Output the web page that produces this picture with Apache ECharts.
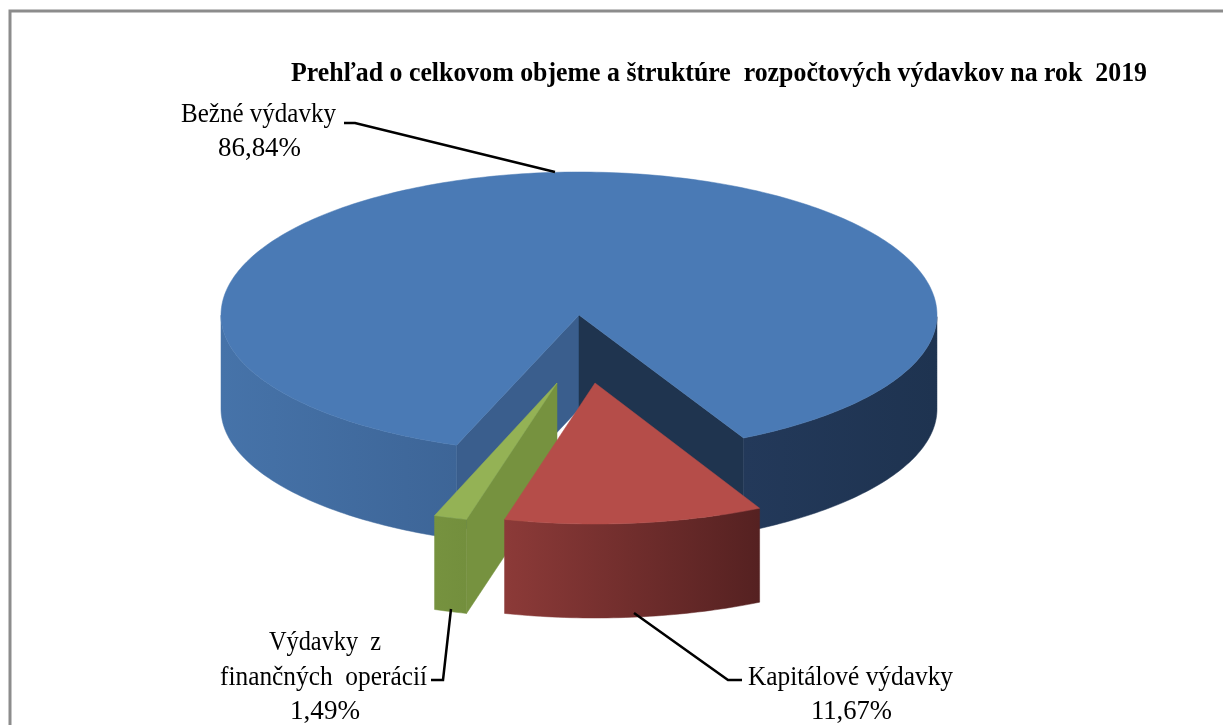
<!DOCTYPE html>
<html><head><meta charset="utf-8">
<style>html,body{margin:0;padding:0;background:#fff}#c{width:1223px;height:725px}</style>
<script src="https://cdn.jsdelivr.net/npm/echarts@6/dist/echarts.min.js"></script>
</head><body><div id="c"></div>
<script>
// ---- data ----
const categories = ['Bežné výdavky', 'Kapitálové výdavky', 'Výdavky z finančných operácií'];
const shares = [86.84, 11.67, 1.49];
const percentLabels = ['86,84%', '11,67%', '1,49%'];
const titleText = 'Prehľad o celkovom objeme a štruktúre  rozpočtových výdavkov na rok  2019';

// ---- layout / style ----
const CX = 579, CY = 315, RX = 358, RY_BACK = 143, DEPTH = 94;
const FIRST_ANGLE = -20;               // degrees, measured from straight down, + = to the right
const explodeX = [0, 16, -22], explodeY = [0, 68, 68];
const ryFront = [138.5, 141, 141];
const stackZ = [1, 3, 2];
const topColors = ['#4A7AB5', '#B54D49', '#94B255'];
const startWallColors = ['#3A5E8D', '#8C3A38', '#76923F'];
const endWallColors = ['#1F344F', '#552121', '#76923F'];
const wallStops = [
  [[0, '#4673A9'], [0.33, '#3D6597'], [0.73, '#23395A'], [1, '#1E3350']],
  [[0, '#8C3A38'], [1, '#552121']],
  [[0, '#76923F'], [1, '#738F3D']]
];
const FONT = '"Liberation Serif", "Times New Roman", serif';
const TEXT_SIZE = 28;
// [text, x (left), y (centre), target width, weight]
const textRows = [
  [titleText, 291, 74, 856, 'bold'],
  [categories[0], 181, 115, 155, 'normal'],
  [percentLabels[0], 218, 149, 83, 'normal'],
  [categories[1], 748, 678, 205, 'normal'],
  [percentLabels[1], 811, 712, 81, 'normal'],
  ['Výdavky  z', 269, 643, 112, 'normal'],
  ['finančných  operácií', 220, 678, 207, 'normal'],
  [percentLabels[2], 290, 712, 70, 'normal']
];
const leaderRows = [
  [[344, 123], [355, 123], [555, 172]],
  [[634, 613], [728, 680], [742, 680]],
  [[451, 609], [443, 680], [431, 680]]
];

const measure = document.createElement('canvas').getContext('2d');
function textScale(text, weight, target) {
  measure.font = weight + ' ' + TEXT_SIZE + 'px "Liberation Serif"';
  return target / measure.measureText(text).width;
}
const rad = d => d * Math.PI / 180;

function sliceGroup(i, value) {
  const before = shares.slice(0, i).reduce((a, b) => a + b, 0);
  // Order: the first slice runs clockwise (decreasing angle) from FIRST_ANGLE.
  const start = FIRST_ANGLE - before / 100 * 360;
  const end = start - value / 100 * 360;
  const ox = CX + explodeX[i], oy = CY + explodeY[i], ryF = ryFront[i];
  const pt = t => {
    const c = Math.cos(rad(t));
    return [ox + RX * Math.sin(rad(t)), oy + (c > 0 ? ryF : RY_BACK) * c];
  };
  const down = p => [p[0], p[1] + DEPTH];
  const apex = [ox, oy];
  const ts = [];
  const steps = Math.max(4, Math.ceil(start - end));
  for (let k = 0; k <= steps; k++) ts.push(start + (end - start) * k / steps);

  // outer wall: only the parts of the rim that face the viewer
  const runs = []; let run = null;
  ts.forEach(t => {
    if (Math.cos(rad(t)) >= -1e-6) { (run = run || []).push(t); }
    else if (run) { runs.push(run); run = null; }
  });
  if (run) runs.push(run);
  const xs = runs.flat().map(t => pt(t)[0]);
  const xMin = Math.min(...xs), xMax = Math.max(...xs);
  const wallFill = new echarts.graphic.LinearGradient(xMin, 0, xMax, 0,
    wallStops[i].map(s => ({ offset: s[0], color: s[1] })), true);

  const z = stackZ[i];
  const poly = (points, fill, extra) => ({
    type: 'polygon', z2: z + (extra || 0), shape: { points },
    style: { fill, stroke: fill, lineWidth: 0.5 }
  });
  const children = [];
  const first = pt(start), last = pt(end);
  if (Math.sin(rad(start)) < 0)
    children.push(poly([apex, first, down(first), down(apex)], startWallColors[i]));
  if (Math.sin(rad(end)) > 0)
    children.push(poly([apex, last, down(last), down(apex)], endWallColors[i]));
  runs.forEach(r => {
    const upper = r.map(pt);
    children.push(poly(upper.concat(upper.slice().reverse().map(down)), wallFill));
  });
  children.push(poly([apex].concat(ts.map(pt)), topColors[i], 0.5));
  return { type: 'group', children };
}

const chart = echarts.init(document.getElementById('c'), null, { renderer: 'canvas' });
chart.setOption({
  animation: false,
  backgroundColor: '#ffffff',
  series: [{
    type: 'custom',
    coordinateSystem: 'none',
    silent: true,
    data: shares.map(v => [v]),
    renderItem: (params, api) => sliceGroup(params.dataIndex, api.value(0))
  }],
  graphic: { elements: [
    { type: 'polyline', silent: true, shape: { points: [[10, 725], [10, 11], [1223, 11]] },
      style: { fill: 'none', stroke: '#8C8C8C', lineWidth: 3 } },
    ...leaderRows.map(points => ({
      type: 'polyline', silent: true, z: 5, shape: { points },
      style: { fill: 'none', stroke: '#000000', lineWidth: 2.5 }
    })),
    ...textRows.map(r => ({
      type: 'text', silent: true, z: 6, x: r[1], y: r[2],
      scaleX: textScale(r[0], r[4], r[3]),
      style: {
        text: r[0], fill: '#000000', fontFamily: FONT, fontSize: TEXT_SIZE, fontWeight: r[4],
        textAlign: 'left', textVerticalAlign: 'middle'
      }
    }))
  ] }
});
</script></body></html>
